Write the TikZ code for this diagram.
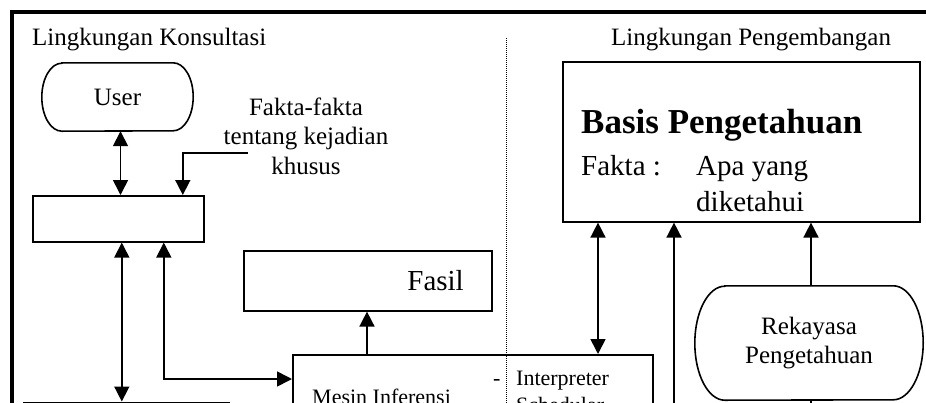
\documentclass[tikz,border=0pt]{standalone}
\usepackage{fontspec}
\setmainfont{Liberation Serif}
\usetikzlibrary{arrows.meta}

% outline of a terminal (stadium) shape around node #1, ends with radii #2 / #3
\newcommand\stadiumoutline[3]{%
  \draw[line width=1.6pt]
    ([xshift=#2]#1.north west) -- ([xshift=-#2]#1.north east)
    arc[start angle=90, end angle=-90, x radius=#2, y radius=#3]
    -- ([xshift=#2]#1.south west)
    arc[start angle=270, end angle=90, x radius=#2, y radius=#3]
    -- cycle;}

\begin{document}
\begin{tikzpicture}[x=1pt, y=-1pt,
  >={Triangle[length=15pt,width=15pt]},
  box/.style={draw, line width=1.6pt, inner sep=0pt, anchor=north west},
  term/.style={inner sep=0pt, align=center},
  link/.style={line width=1.6pt},
  lbl/.style={inner sep=0pt, anchor=base west},
  fa/.style={font=\fontsize{22}{26}\selectfont},
  fb/.style={font=\fontsize{25}{29.5}\selectfont},
  fc/.style={font=\fontsize{29}{34}\selectfont},
  fd/.style={font=\fontsize{35}{42}\selectfont\bfseries}]

\useasboundingbox (0,0) rectangle (926,402);
\clip (0,0) rectangle (926,402);

% outer frame
\coordinate (frameLB) at (12,440);
\coordinate (frameLT) at (12,11.5);
\coordinate (frameRT) at (940,11.5);
\draw[line width=4pt] (frameLB) -- (frameLT) -- (frameRT);

% separator between the two environments
\coordinate (divtop) at (506.5,38);
\coordinate (divbot) at (506.5,420);
\draw[line width=0.9pt, dash pattern=on 1pt off 1pt] (divtop) -- (divbot);

% headings
\node[lbl, fb] (kons) at (32,45) {Lingkungan Konsultasi};
\node[lbl, fb] (peng) at (611,45) {Lingkungan Pengembangan};

% consultation side
\node[term, fb, minimum width=151pt, minimum height=68pt] (user) at (117.5,97) {User};
\stadiumoutline{user}{20pt}{34pt}

\node[fb, inner sep=0pt, align=center, anchor=north] (fakta) at (306,97.4)
  {Fakta-fakta\\tentang kejadian\\khusus};
\coordinate (faktain) at (248,153);

\node[box, minimum width=171pt, minimum height=46pt] (ui) at (32,195) {};
\node[box, minimum width=205pt, minimum height=60pt] (out) at (23,401.5) {};

\node[box, fc, minimum height=60pt, text width=192pt, inner xsep=28pt, align=right]
  (fasil) at (243,250) {Fasil};

\node[box, minimum width=360pt, minimum height=120pt] (mesin) at (292,354) {};
\node[lbl, fa] (mesinlbl) at (312,404.5) {Mesin Inferensi};
\node[lbl, fa] (dash) at (493,385) {-};
\node[lbl, fa] (interp) at (516,385) {Interpreter};
\node[lbl, fa] (sched) at (516,412) {Schedular};

% development side
\node[box, minimum width=357pt, minimum height=160pt] (basis) at (562,61) {};
\node[lbl, fd] (bphead) at (581,133) {Basis Pengetahuan};
\node[lbl, fc] (faktalbl) at (581,175) {Fakta :};
\node[lbl, fc] (apa) at (696,175) {Apa yang};
\node[lbl, fc] (diket) at (696,211) {diketahui};

\node[term, fb, minimum width=228pt, minimum height=114pt] (rek) at (809,343)
  {Rekayasa\\Pengetahuan};
\stadiumoutline{rek}{30pt}{57pt}

\coordinate (kbin) at (674,420);
\coordinate (rkout) at (811,420);

% connectors
\draw[link,<->] ([xshift=3pt]user.south) -- ([xshift=3pt]user.south |- ui.north);
\draw[link,->] (faktain) -| ([xshift=64.5pt]ui.north);
\draw[link,<->] ([xshift=3.5pt]ui.south) -- ([xshift=3.5pt]ui.south |- out.north);
\draw[link,<->] ([xshift=45.5pt]ui.south) |- ([yshift=-25pt]mesin.north west);
\draw[link,->] ([xshift=75pt]mesin.north west) -- ([xshift=75pt]mesin.north west |- fasil.south);
\draw[link,<->] ([xshift=36pt]basis.south west) -- ([xshift=36pt]basis.south west |- mesin.north);
\draw[link,->] (kbin) -- (kbin |- basis.south);
\draw[link,->] ([xshift=2pt]rek.north) -- ([xshift=2pt]rek.north |- basis.south);
\draw[link] ([xshift=2pt]rek.south) -- (rkout);

\end{tikzpicture}
\end{document}
